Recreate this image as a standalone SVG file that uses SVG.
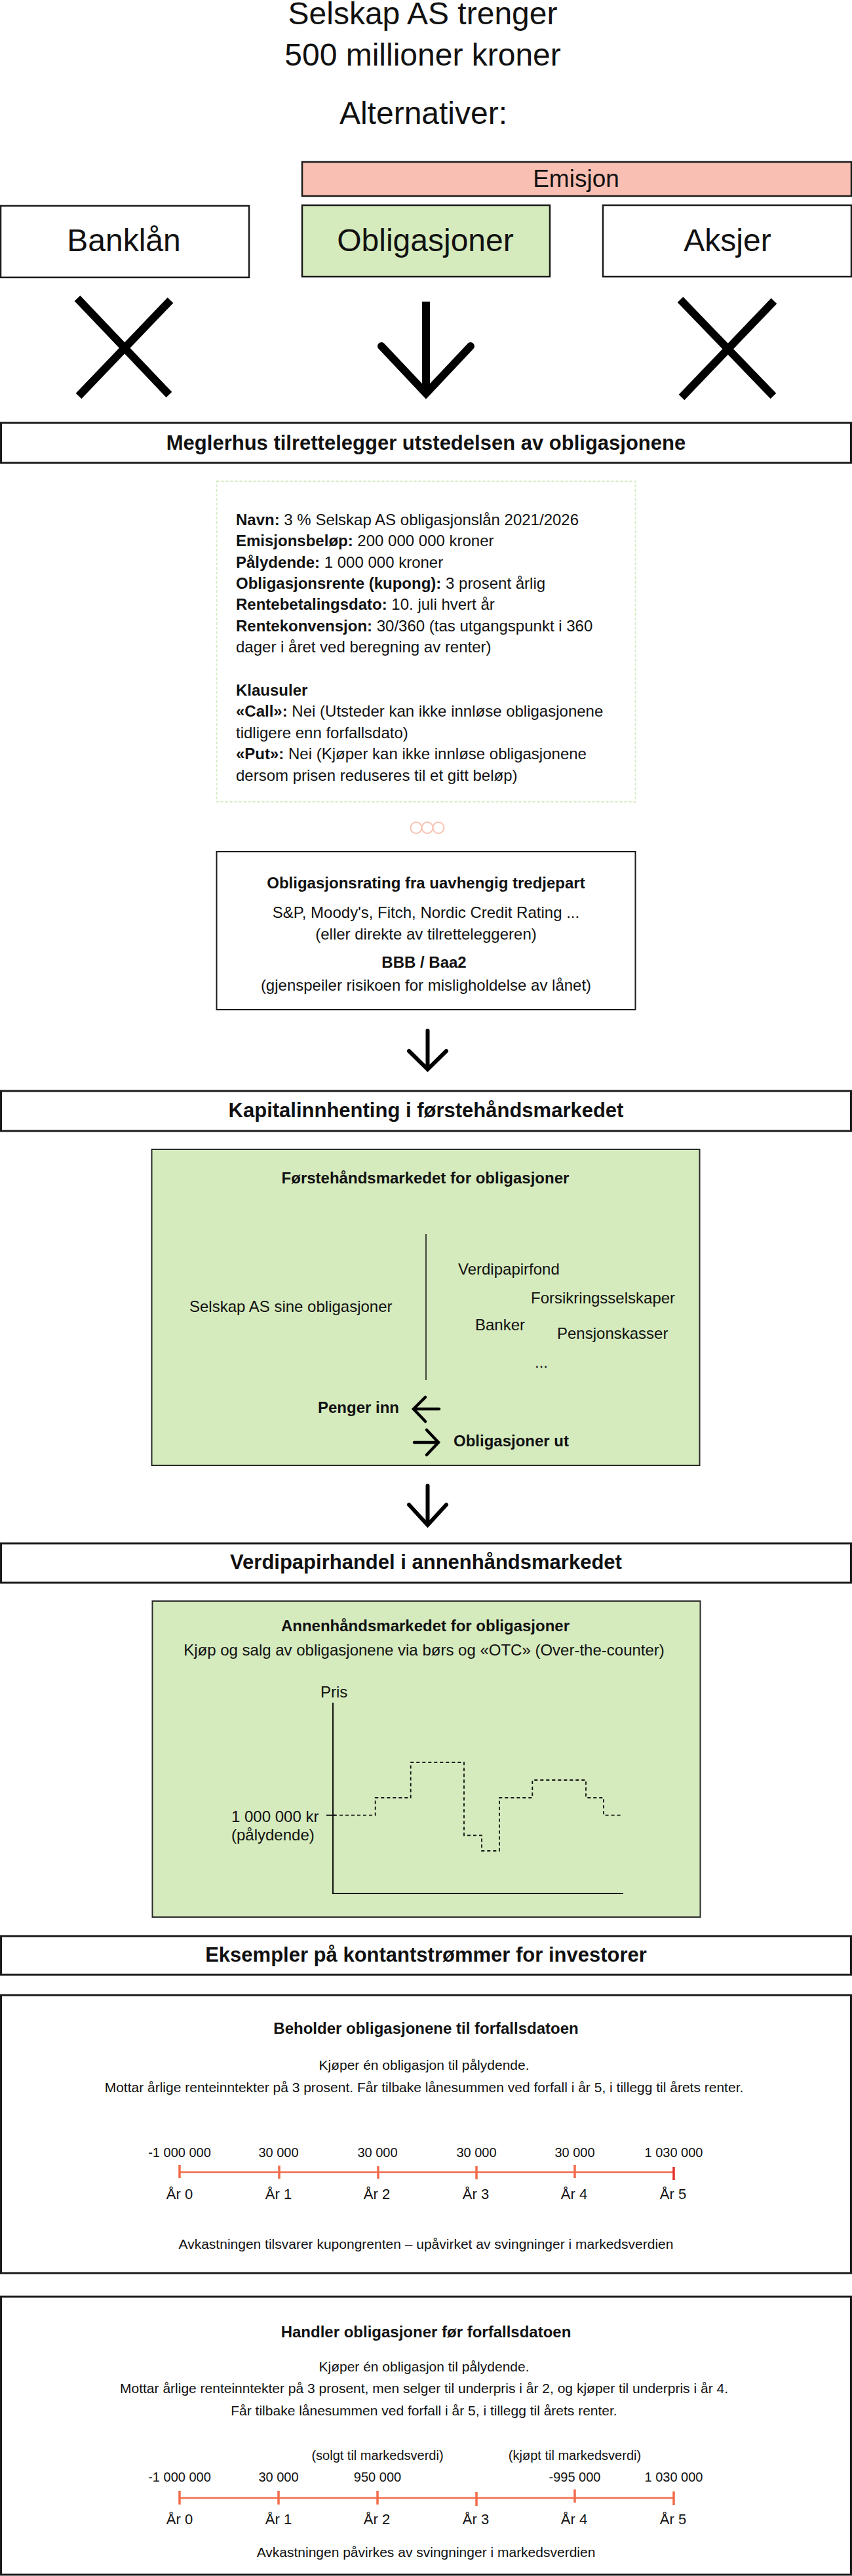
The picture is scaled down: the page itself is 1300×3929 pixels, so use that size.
<svg xmlns="http://www.w3.org/2000/svg" width="1300" height="3929" viewBox="0 0 1300 3929">
<defs>
<style>
text{font-family:"Liberation Sans",Arial,sans-serif;fill:#111;}
.c{text-anchor:middle;}
.b{font-weight:bold;}
.t48{font-size:48px;}
.h31{font-size:31px;font-weight:bold;text-anchor:middle;}
.f24{font-size:24px;}
.f21{font-size:21px;}
.f20{font-size:20px;}
.f22{font-size:22px;}
.box{fill:#fff;stroke:#1a1a1a;stroke-width:2.5;}
.bar{fill:#fff;stroke:#1a1a1a;stroke-width:3;}
.green{fill:#d5eabd;stroke:#2a2a2a;stroke-width:2;}
.big{fill:none;stroke:#000;stroke-width:12;}
.arr{fill:none;stroke:#000;stroke-width:6;stroke-linecap:round;}
.arrs{fill:none;stroke:#000;stroke-width:4.5;stroke-linecap:round;}
.tl{stroke:#f26b4a;stroke-width:2.5;fill:none;}
.tk{stroke:#f26b4a;stroke-width:3.5;fill:none;}
</style>
</defs>

<g id="title">
<text class="c t48" x="645" y="37">Selskap AS trenger</text>
<text class="c t48" x="645" y="100">500 millioner kroner</text>
<text class="c t48" x="646" y="189">Alternativer:</text>
</g>

<g id="emisjon">
<rect x="461" y="247" width="838" height="52" fill="#f8bfb2" stroke="#1a1a1a" stroke-width="2.5"/>
<text class="c" x="879" y="285" font-size="37">Emisjon</text>
</g>
<g id="banklan">
<rect class="box" x="1" y="314" width="379" height="109"/>
<text class="c t48" x="189" y="383">Banklån</text>
</g>
<g id="obligasjoner">
<rect x="461" y="313" width="378" height="109" fill="#d5eabd" stroke="#1a1a1a" stroke-width="2.5"/>
<text class="c t48" x="649" y="383">Obligasjoner</text>
</g>
<g id="aksjer">
<rect class="box" x="920" y="313" width="379" height="109"/>
<text class="c t48" x="1110" y="383">Aksjer</text>
</g>

<g id="connectors">
<path class="big" d="M118,455 L258,602 M260,458 L120,604"/>
<path class="big" d="M1038,457 L1180,604 M1181,459 L1040,606"/>
<path class="big" d="M650,460 V600"/>
<path class="big" d="M582,528 L650,600 L718,528" stroke-linecap="round"/>
<path class="arr" d="M652.5,1572 V1630 M624,1603 L652.5,1631 L681,1603"/>
<path class="arr" d="M652.5,2266 V2325 M624,2295 L652.5,2326 L681,2295"/>
</g>

<g id="meglerhus">
<rect class="bar" x="1.5" y="645" width="1297" height="61"/>
<text class="h31" x="650" y="686">Meglerhus tilrettelegger utstedelsen av obligasjonene</text>
</g>

<g id="vilkar">
<rect x="330.5" y="734" width="639" height="489" fill="none" stroke="#d4ebc0" stroke-width="1.8" stroke-dasharray="4 3"/>
<text class="f24" x="360" y="801"><tspan class="b">Navn:</tspan> 3 % Selskap AS obligasjonslån 2021/2026</text>
<text class="f24" x="360" y="833"><tspan class="b">Emisjonsbeløp:</tspan> 200 000 000 kroner</text>
<text class="f24" x="360" y="866"><tspan class="b">Pålydende:</tspan> 1 000 000 kroner</text>
<text class="f24" x="360" y="898"><tspan class="b">Obligasjonsrente (kupong):</tspan> 3 prosent årlig</text>
<text class="f24" x="360" y="930"><tspan class="b">Rentebetalingsdato:</tspan> 10. juli hvert år</text>
<text class="f24" x="360" y="963"><tspan class="b">Rentekonvensjon:</tspan> 30/360 (tas utgangspunkt i 360</text>
<text class="f24" x="360" y="995">dager i året ved beregning av renter)</text>
<text class="f24 b" x="360" y="1061">Klausuler</text>
<text class="f24" x="360" y="1093"><tspan class="b">«Call»:</tspan> Nei (Utsteder kan ikke innløse obligasjonene</text>
<text class="f24" x="360" y="1126">tidligere enn forfallsdato)</text>
<text class="f24" x="360" y="1158"><tspan class="b">«Put»:</tspan> Nei (Kjøper kan ikke innløse obligasjonene</text>
<text class="f24" x="360" y="1191">dersom prisen reduseres til et gitt beløp)</text>
</g>

<g id="sirkler" fill="none" stroke="#f9c4b4" stroke-width="2">
<circle cx="635" cy="1262.5" r="8.5"/>
<circle cx="652" cy="1262.5" r="8.5"/>
<circle cx="669" cy="1262.5" r="8.5"/>
</g>

<g id="rating">
<rect x="330.5" y="1299" width="639" height="241" fill="#fff" stroke="#1a1a1a" stroke-width="2"/>
<text class="c f24 b" x="650" y="1355">Obligasjonsrating fra uavhengig tredjepart</text>
<text class="c f24" x="650" y="1400">S&amp;P, Moody's, Fitch, Nordic Credit Rating ...</text>
<text class="c f24" x="650" y="1433">(eller direkte av tilretteleggeren)</text>
<text class="c f24 b" x="647" y="1476">BBB / Baa2</text>
<text class="c f24" x="650" y="1511">(gjenspeiler risikoen for misligholdelse av lånet)</text>
</g>

<g id="kapital">
<rect class="bar" x="1.5" y="1664" width="1297" height="61"/>
<text class="h31" x="650" y="1704">Kapitalinnhenting i førstehåndsmarkedet</text>
</g>

<g id="forstehand">
<rect class="green" x="231.5" y="1753" width="836" height="482"/>
<text class="c f24 b" x="649" y="1805">Førstehåndsmarkedet for obligasjoner</text>
<line x1="650" y1="1882" x2="650" y2="2105" stroke="#111" stroke-width="1.5"/>
<text class="f24" x="289" y="2001">Selskap AS sine obligasjoner</text>
<text class="f24" x="699" y="1944">Verdipapirfond</text>
<text class="f24" x="810" y="1988">Forsikringsselskaper</text>
<text class="f24" x="725" y="2029">Banker</text>
<text class="f24" x="850" y="2042">Pensjonskasser</text>
<text class="f24" x="816" y="2086">...</text>
<text class="f24 b" x="609" y="2155" text-anchor="end">Penger inn</text>
<path class="arrs" d="M631,2149 H670 M649,2131 L631,2149 L649,2168"/>
<path class="arrs" d="M632,2200 H669 M651,2181 L669,2200 L651,2219"/>
<text class="f24 b" x="692" y="2206">Obligasjoner ut</text>
</g>

<g id="verdipapirhandel">
<rect class="bar" x="1.5" y="2354" width="1297" height="60"/>
<text class="h31" x="650" y="2393">Verdipapirhandel i annenhåndsmarkedet</text>
</g>

<g id="annenhand">
<rect class="green" x="232.5" y="2442" width="836" height="482"/>
<text class="c f24 b" x="649" y="2488">Annenhåndsmarkedet for obligasjoner</text>
<text class="c f24" x="647" y="2525">Kjøp og salg av obligasjonene via børs og «OTC» (Over-the-counter)</text>
<text class="f24" x="489" y="2589">Pris</text>
<path d="M508,2597 V2888 H951" fill="none" stroke="#111" stroke-width="2"/>
<path d="M498,2768.7 H512" fill="none" stroke="#111" stroke-width="2"/>
<text class="f24" x="353" y="2779">1 000 000 kr</text>
<text class="f24" x="353" y="2807">(pålydende)</text>
<path d="M509,2768.7 H572.7 V2742 H626.7 V2688 H708 V2799.3 H735 V2823 H762 V2742 H812.3 V2715 H894 V2742 H921 V2768.7 H948" fill="none" stroke="#111" stroke-width="1.8" stroke-dasharray="5 4"/>
</g>

<g id="eksempler">
<rect class="bar" x="1.5" y="2953" width="1297" height="59"/>
<text class="h31" x="650" y="2992">Eksempler på kontantstrømmer for investorer</text>
</g>

<g id="beholder">
<rect class="bar" x="1.5" y="3043" width="1297" height="424"/>
<text class="c f24 b" x="650" y="3102">Beholder obligasjonene til forfallsdatoen</text>
<text class="c f21" x="647" y="3157">Kjøper én obligasjon til pålydende.</text>
<text class="c f21" x="647" y="3191">Mottar årlige renteinntekter på 3 prosent. Får tilbake lånesummen ved forfall i år 5, i tillegg til årets renter.</text>
<g class="f20 c">
<text x="274" y="3290">-1 000 000</text>
<text x="425" y="3290">30 000</text>
<text x="576" y="3290">30 000</text>
<text x="727" y="3290">30 000</text>
<text x="877" y="3290">30 000</text>
<text x="1028" y="3290">1 030 000</text>
</g>
<path class="tl" d="M274,3313 H1028"/>
<path class="tk" d="M274,3302 V3322 M426,3303 V3323 M577,3304 V3323 M727,3304 V3324 M877,3302 V3322"/>
<path d="M1028,3305 V3325" stroke="#e8302a" stroke-width="3.5"/>
<g class="f22 c">
<text x="274" y="3354">År 0</text>
<text x="425" y="3354">År 1</text>
<text x="575" y="3354">År 2</text>
<text x="726" y="3354">År 3</text>
<text x="876" y="3354">År 4</text>
<text x="1027" y="3354">År 5</text>
</g>
<text class="c f21" x="650" y="3430">Avkastningen tilsvarer kupongrenten – upåvirket av svingninger i markedsverdien</text>
</g>

<g id="handler">
<rect class="bar" x="1.5" y="3503" width="1297" height="424"/>
<text class="c f24 b" x="650" y="3565">Handler obligasjoner før forfallsdatoen</text>
<text class="c f21" x="647" y="3617">Kjøper én obligasjon til pålydende.</text>
<text class="c f21" x="647" y="3650">Mottar årlige renteinntekter på 3 prosent, men selger til underpris i år 2, og kjøper til underpris i år 4.</text>
<text class="c f21" x="647" y="3684">Får tilbake lånesummen ved forfall i år 5, i tillegg til årets renter.</text>
<text class="c f20" x="576" y="3752">(solgt til markedsverdi)</text>
<text class="c f20" x="877" y="3752">(kjøpt til markedsverdi)</text>
<g class="f20 c">
<text x="274" y="3785">-1 000 000</text>
<text x="425" y="3785">30 000</text>
<text x="576" y="3785">950 000</text>
<text x="877" y="3785">-995 000</text>
<text x="1028" y="3785">1 030 000</text>
</g>
<path class="tl" d="M274,3810 H1028"/>
<path class="tk" d="M274,3799 V3820 M425,3799 V3820 M576,3799 V3820 M727,3801 V3822 M877,3797 V3817 M1028,3800 V3821"/>
<g class="f22 c">
<text x="274" y="3850">År 0</text>
<text x="425" y="3850">År 1</text>
<text x="575" y="3850">År 2</text>
<text x="726" y="3850">År 3</text>
<text x="876" y="3850">År 4</text>
<text x="1027" y="3850">År 5</text>
</g>
<text class="c f21" x="650" y="3900">Avkastningen påvirkes av svingninger i markedsverdien</text>
</g>
</svg>
